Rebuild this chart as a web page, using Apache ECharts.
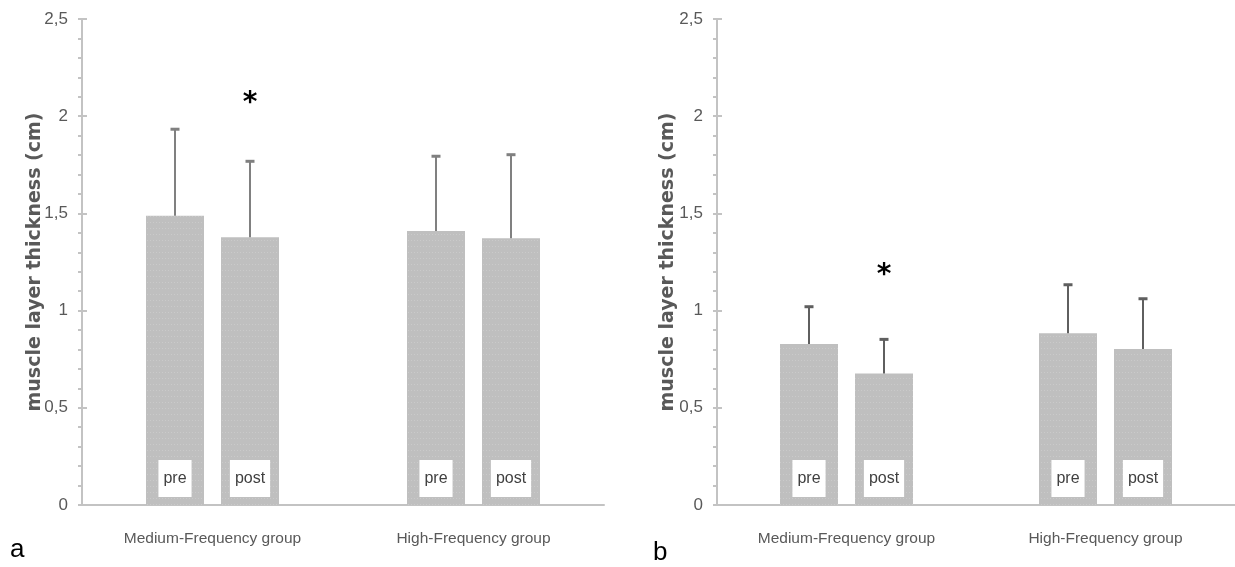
<!DOCTYPE html>
<html>
<head>
<meta charset="utf-8">
<script src="https://cdn.jsdelivr.net/npm/echarts@6/dist/echarts.min.js"></script>
<style>
html,body{margin:0;padding:0;background:#fff;}
#chart{width:1235px;height:567px;}
</style>
</head>
<body>
<div id="chart"></div>
<script>
// ---- data ----
const categories = ['Medium-Frequency group', 'High-Frequency group'];
const yTickLabels = ['0', '0,5', '1', '1,5', '2', '2,5'];
const barNames = ['pre', 'post'];
// panel a
const preA = [1.488, 1.410];
const postA = [1.377, 1.372];
const preSdA = [0.445, 0.384];
const postSdA = [0.391, 0.430];
const starCatA = [0];
const starLevelA = [2.065];
// panel b
const preB = [0.828, 0.883];
const postB = [0.677, 0.802];
const preSdB = [0.192, 0.250];
const postSdB = [0.175, 0.259];
const starCatB = [0];
const starLevelB = [1.18];

// ---- styles ----
const NARROW = "'Liberation Sans Narrow', 'Liberation Sans', sans-serif";
const axisGray = '#c3c3c3';
const textGray = '#595959';
const barColor = '#bfbfbf';
const barW = 58, barGapPx = 17;
const halfStep = (barW + barGapPx) / 2;

function yMain(gridIndex, nameGap) {
  return {
    type: 'value', gridIndex: gridIndex, min: 0, max: 2.5, interval: 0.5,
    name: 'muscle layer thickness (cm)', nameLocation: 'middle', nameGap: nameGap,
    nameMoveOverlap: false,
    nameTextStyle: { fontFamily: 'DejaVu Sans', fontSize: 19, fontWeight: 'bold', color: textGray },
    axisLine: { show: true, lineStyle: { color: axisGray, width: 2 } },
    axisTick: { show: true, length: 4, lineStyle: { color: axisGray, width: 2 } },
    minorTick: { show: true, splitNumber: 5, length: 4, lineStyle: { color: axisGray, width: 2 } },
    splitLine: { show: false },
    axisLabel: {
      margin: 14, color: textGray, fontFamily: NARROW, fontSize: 17,
      formatter: function (v) { return yTickLabels[Math.round(v / 0.5)]; }
    }
  };
}
function yOverlay(gridIndex) {
  return {
    type: 'value', gridIndex: gridIndex, min: 0, max: 2.5, interval: 0.5, position: 'left',
    axisLine: { show: false },
    axisTick: { show: true, inside: true, length: 5, lineStyle: { color: axisGray, width: 2 } },
    axisLabel: { show: false }, splitLine: { show: false }
  };
}
function xAxisDef(gridIndex) {
  return {
    type: 'category', gridIndex: gridIndex, data: categories,
    axisLine: { show: true, lineStyle: { color: axisGray, width: 2 } },
    axisTick: { show: false },
    axisLabel: { interval: 0, margin: 26, color: textGray, fontFamily: NARROW, fontSize: 15.5 }
  };
}
function barSeries(name, values, gridIndex, yIndex) {
  return {
    type: 'bar', name: name, xAxisIndex: gridIndex, yAxisIndex: yIndex,
    data: values, barWidth: barW, barGap: (barGapPx / barW * 100) + '%',
    itemStyle: {
      color: barColor,
      decal: { symbol: 'rect', symbolSize: 1, color: 'rgba(255,255,255,0.18)', dashArrayX: [[1, 2]], dashArrayY: [1, 5], rotation: 0 }
    },
    label: {
      show: true, position: 'insideBottom', distance: 8, formatter: name,
      backgroundColor: '#ffffff', padding: [10, 5, 10, 5], lineHeight: 17,
      color: '#404040', fontFamily: NARROW, fontSize: 16
    },
    emphasis: { disabled: true }, silent: true
  };
}
function errSeries(means, sds, offset, color, gridIndex, yIndex) {
  return {
    type: 'custom', xAxisIndex: gridIndex, yAxisIndex: yIndex, silent: true, z: 3,
    data: means.map(function (m, i) { return [i, m, sds[i]]; }),
    renderItem: function (params, api) {
      const c = api.coord([api.value(0), api.value(1)]);
      const t = api.coord([api.value(0), api.value(1) + api.value(2)]);
      const x = c[0] + offset;
      return {
        type: 'group', children: [
          { type: 'line', shape: { x1: x, y1: c[1], x2: x, y2: t[1] }, style: { stroke: color, lineWidth: 2 } },
          { type: 'rect', shape: { x: x - 4.5, y: t[1] - 1.5, width: 9, height: 3 }, style: { fill: color } }
        ]
      };
    }
  };
}
function starSeries(cats, levels, gridIndex, yIndex) {
  return {
    type: 'custom', xAxisIndex: gridIndex, yAxisIndex: yIndex, silent: true, z: 4,
    data: cats.map(function (c, i) { return [c, levels[i]]; }),
    renderItem: function (params, api) {
      const p = api.coord([api.value(0), api.value(1)]);
      return {
        type: 'text', x: p[0] + halfStep, y: p[1],
        style: { text: '*', fill: '#000', font: 'bold 28px "DejaVu Sans"', align: 'center', verticalAlign: 'middle' }
      };
    }
  };
}

const chart = echarts.init(document.getElementById('chart'), null, { renderer: 'canvas' });
chart.setOption({
  backgroundColor: '#ffffff',
  animation: false,
  grid: [
    { left: 82, top: 19, width: 522, height: 486 },
    { left: 717, top: 19, width: 523, height: 486 }
  ],
  xAxis: [xAxisDef(0), xAxisDef(1)],
  yAxis: [yMain(0, 37), yOverlay(0), yMain(1, 39), yOverlay(1)],
  series: [
    barSeries(barNames[0], preA, 0, 0),
    barSeries(barNames[1], postA, 0, 0),
    errSeries(preA, preSdA, -halfStep, '#808080', 0, 0),
    errSeries(postA, postSdA, halfStep, '#808080', 0, 0),
    starSeries(starCatA, starLevelA, 0, 0),
    barSeries(barNames[0], preB, 1, 2),
    barSeries(barNames[1], postB, 1, 2),
    errSeries(preB, preSdB, -halfStep, '#5f5f5f', 1, 2),
    errSeries(postB, postSdB, halfStep, '#5f5f5f', 1, 2),
    starSeries(starCatB, starLevelB, 1, 2)
  ],
  graphic: [
    { type: 'text', left: 10, top: 537, style: { text: 'a', font: '26px "Liberation Sans"', fill: '#000' } },
    { type: 'text', left: 653, top: 540, style: { text: 'b', font: '26px "Liberation Sans"', fill: '#000' } }
  ]
});
</script>
</body>
</html>
